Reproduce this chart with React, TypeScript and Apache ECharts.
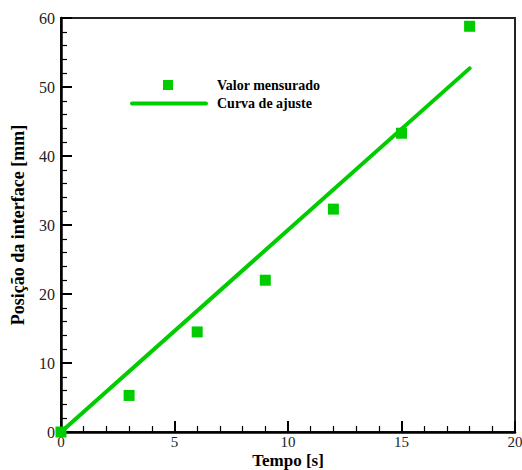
import React, { useEffect, useRef } from "react";
import * as echarts from "echarts";

const timeValues = [0, 3, 6, 9, 12, 15, 18];
const measuredValues = [0, 5.3, 14.5, 22.0, 32.3, 43.3, 58.8];
const fitX = [0, 18];
const fitY = [0, 52.7];
const xTicks = [0, 5, 10, 15, 20];
const yTicks = [0, 10, 20, 30, 40, 50, 60];
const legendLabels = ["Valor mensurado", "Curva de ajuste"];

const GREEN = "#00cc00";
const FONT = "Liberation Serif";

export default function App() {
  const ref = useRef<HTMLDivElement>(null);
  useEffect(() => {
    if (!ref.current) return;
    const chart = echarts.init(ref.current, undefined, { renderer: "svg" });
    const axisCommon = {
      axisLine: { show: true, onZero: false, lineStyle: { color: "#000", width: 2.5 } },
      axisTick: { show: true, inside: true, length: 11, lineStyle: { color: "#000", width: 2 } },
      minorTick: { show: true, splitNumber: 5, length: 6, lineStyle: { color: "#000", width: 1.2 } },
      splitLine: { show: false },
      axisLabel: { color: "#222", fontFamily: FONT, fontSize: 16, lineHeight: 14 },
      nameMoveOverlap: false,
    };
    chart.setOption({
      animation: false,
      grid: {
        left: 61,
        top: 18,
        right: 7,
        bottom: 38,
        containLabel: false,
        outerBoundsMode: "none",
        show: true,
        borderColor: "#222",
        borderWidth: 2,
      },
      xAxis: {
        type: "value",
        min: 0,
        max: 20,
        interval: 5,
        ...axisCommon,
        axisLabel: {
          ...axisCommon.axisLabel,
          fontSize: 15,
          lineHeight: 13,
          margin: 3,
          formatter: (v: number) => (xTicks.includes(v) ? String(v) : ""),
        },
        name: "Tempo [s]",
        nameLocation: "middle",
        nameGap: 20,
        nameTextStyle: { fontFamily: FONT, fontSize: 17, fontWeight: "bold", color: "#000", lineHeight: 17 },
      },
      yAxis: {
        type: "value",
        min: 0,
        max: 60,
        interval: 10,
        ...axisCommon,
        axisLabel: { ...axisCommon.axisLabel, margin: 6, formatter: (v: number) => (yTicks.includes(v) ? String(v) : "") },
        name: "Posição da interface [mm]",
        nameLocation: "middle",
        nameGap: 34,
        nameTextStyle: { fontFamily: FONT, fontSize: 18, fontWeight: "bold", color: "#000", lineHeight: 18 },
      },
      series: [
        {
          type: "line",
          data: fitX.map((x, i) => [x, fitY[i]]),
          symbol: "none",
          lineStyle: { color: GREEN, width: 4, cap: "round" },
          z: 2,
        },
        {
          type: "scatter",
          data: timeValues.map((x, i) => [x, measuredValues[i]]),
          symbol: "rect",
          symbolSize: 11,
          itemStyle: { color: GREEN, opacity: 1 },
          clip: false,
          z: 3,
        },
      ],
      graphic: [
        { type: "rect", shape: { x: 163, y: 80, width: 10, height: 10 }, style: { fill: GREEN } },
        {
          type: "line",
          shape: { x1: 132, y1: 103.5, x2: 206, y2: 103.5 },
          style: { stroke: GREEN, lineWidth: 4, lineCap: "round" },
        },
        {
          type: "text",
          x: 217,
          y: 85,
          style: { text: legendLabels[0], font: `bold 14px ${FONT}`, fill: "#000", verticalAlign: "middle" },
        },
        {
          type: "text",
          x: 217,
          y: 103,
          style: { text: legendLabels[1], font: `bold 14px ${FONT}`, fill: "#000", verticalAlign: "middle" },
        },
      ],
    });
    return () => chart.dispose();
  }, []);
  return <div ref={ref} style={{ width: 522, height: 470, position: "absolute", left: 0, top: 0 }} />;
}
